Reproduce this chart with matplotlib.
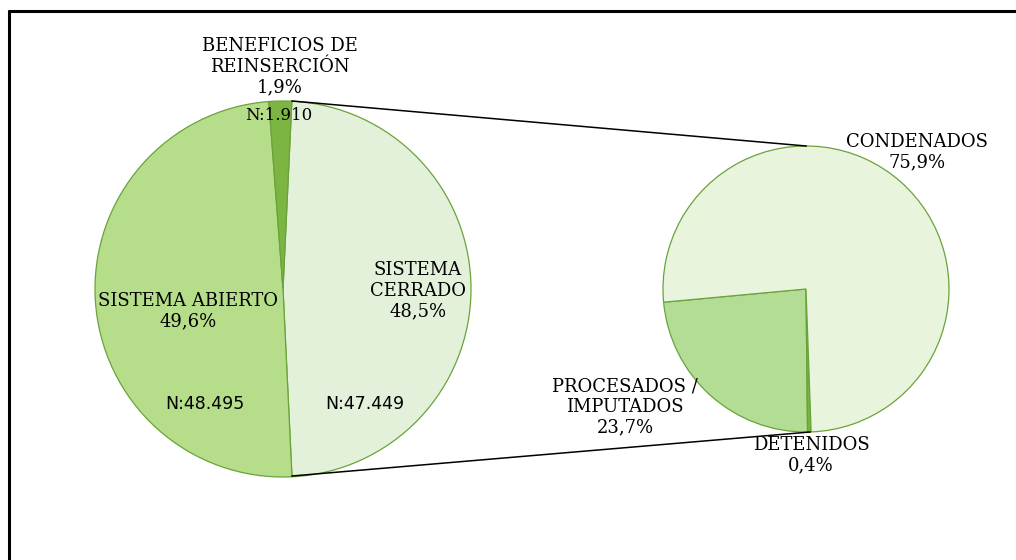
import matplotlib
matplotlib.use("Agg")
import matplotlib.pyplot as plt

# left pie: cerrado, abierto, beneficios (clockwise from top)
left_labels = ["SISTEMA\nCERRADO", "SISTEMA ABIERTO", "BENEFICIOS DE\nREINSERCIÓN"]
left_counts = [47449, 48495, 1910]
left_pct = ["48,5%", "49,6%", "1,9%"]
left_n = ["N:47.449", "N:48.495", "N:1.910"]
left_colors = ["#e3f1da", "#b6de8a", "#7db543"]

# right pie: procesados, detenidos, condenados (counter-clockwise)
right_labels = ["PROCESADOS /\nIMPUTADOS", "DETENIDOS", "CONDENADOS"]
right_values = [23.7, 0.4, 75.9]
right_pct = ["23,7%", "0,4%", "75,9%"]
right_colors = ["#b3dc94", "#7bb245", "#e8f5dc"]

W, H = 1016, 560
fig = plt.figure(figsize=(W / 100, H / 100), dpi=100)
ax = fig.add_axes([0, 0, 1, 1])

lc = (283, H - 289)
lr = 188
rc = (806, H - 289)
rr = 143

edge = dict(edgecolor="#6aa33a", linewidth=0.9)
ax.pie(left_counts, colors=left_colors, startangle=87.3, counterclock=False,
       center=lc, radius=lr, wedgeprops=edge, frame=True)
ax.pie(right_values, colors=right_colors, startangle=185.3, counterclock=True,
       center=rc, radius=rr, wedgeprops=edge, frame=True)
ax.set_xlim(0, W)
ax.set_ylim(0, H)
ax.set_aspect("equal")
ax.axis("off")

# connector lines
ax.plot([292, 806], [H - 101, H - 146], color="black", lw=1.1)
ax.plot([292, 810], [H - 476, H - 432], color="black", lw=1.1)

serif = dict(family="DejaVu Serif", fontsize=13, ha="center", va="center",
             linespacing=1.18, color="black")
sans = dict(family="DejaVu Sans", fontsize=12.5, ha="center", va="center",
            color="black")

ax.text(418, H - 291, left_labels[0] + "\n" + left_pct[0], **serif)
ax.text(188, H - 311, left_labels[1] + "\n" + left_pct[1], **serif)
ax.text(280, H - 67, left_labels[2] + "\n" + left_pct[2], **serif)
ax.text(365, H - 404, left_n[0], **sans)
ax.text(205, H - 404, left_n[1], **sans)
ax.text(279, H - 116, left_n[2], family="DejaVu Serif", fontsize=12,
        ha="center", va="center", color="black")

ax.text(625, H - 407, right_labels[0] + "\n" + right_pct[0], **serif)
ax.text(811, H - 455, right_labels[1] + "\n" + right_pct[1], **serif)
ax.text(917, H - 152, right_labels[2] + "\n" + right_pct[2], **serif)

# outer frame (cut off at right and bottom)
ax.plot([8, W], [H - 10.5, H - 10.5], color="black", lw=2.2, solid_capstyle="butt")
ax.plot([9, 9], [H - 9.5, 0], color="black", lw=2.2, solid_capstyle="butt")

fig.savefig("out.png", dpi=100)
